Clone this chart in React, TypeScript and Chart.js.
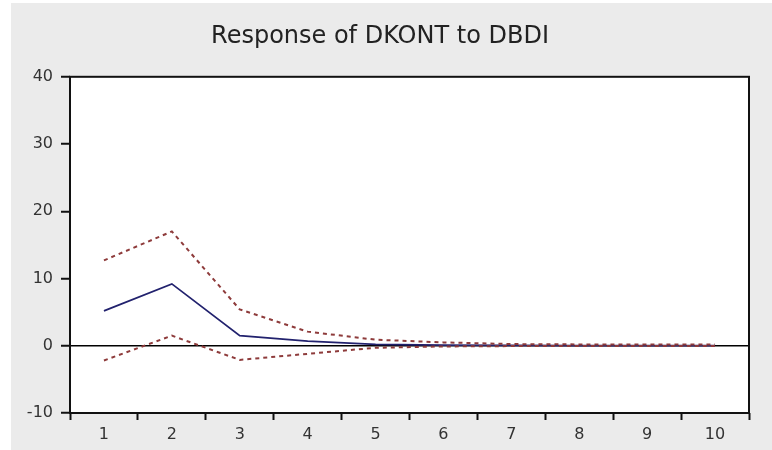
import React, { useEffect, useRef } from "react";
import { Chart, registerables } from "chart.js";

Chart.register(...registerables);

const categories = ["1", "2", "3", "4", "5", "6", "7", "8", "9", "10"];
const response = [5.2, 9.2, 1.5, 0.7, 0.2, 0.1, 0.05, 0.03, 0.02, 0.01];
const upperBand = [12.7, 17.0, 5.4, 2.1, 0.9, 0.5, 0.25, 0.2, 0.2, 0.2];
const lowerBand = [-2.2, 1.5, -2.1, -1.2, -0.3, -0.1, -0.05, -0.05, -0.05, -0.05];
const yTicks = [-10, 0, 10, 20, 30, 40];
const titleText = "Response of DKONT to DBDI";

const boxPlugin = {
  id: "boxPlugin",
  beforeDraw(chart: any) {
    const { ctx, chartArea, width, height } = chart;
    ctx.save();
    ctx.fillStyle = "#ebebeb";
    ctx.fillRect(0, 0, width, height);
    ctx.fillStyle = "#ffffff";
    ctx.fillRect(chartArea.left, chartArea.top, chartArea.right - chartArea.left, chartArea.bottom - chartArea.top);
    ctx.restore();
  },
  afterDraw(chart: any) {
    const { ctx, chartArea } = chart;
    ctx.save();
    ctx.strokeStyle = "#111";
    ctx.lineWidth = 2;
    ctx.strokeRect(chartArea.left, chartArea.top, chartArea.right - chartArea.left, chartArea.bottom - chartArea.top);
    ctx.restore();
  },
};

export default function App() {
  const ref = useRef<HTMLCanvasElement>(null);
  useEffect(() => {
    if (!ref.current) return;
    const chart = new Chart(ref.current, {
      type: "line",
      data: {
        labels: categories,
        datasets: [
          {
            data: upperBand,
            borderColor: "#8e3b3b",
            borderWidth: 2,
            borderDash: [4, 4],
            pointRadius: 0,
            tension: 0,
          },
          {
            data: lowerBand,
            borderColor: "#8e3b3b",
            borderWidth: 2,
            borderDash: [4, 4],
            pointRadius: 0,
            tension: 0,
          },
          {
            data: response,
            borderColor: "#22226e",
            borderWidth: 1.8,
            pointRadius: 0,
            tension: 0,
          },
        ],
      },
      options: {
        responsive: false,
        animation: false,
        layout: { padding: { left: 0, right: 23, top: 0, bottom: 0 } },
        plugins: {
          legend: { display: false },
          tooltip: { enabled: false },
          title: {
            display: true,
            text: titleText,
            color: "#222",
            font: { family: "DejaVu Sans", size: 24, weight: "normal" },
            padding: { top: 19, bottom: 26 },
          },
        },
        scales: {
          x: {
            type: "category",
            offset: true,
            border: { display: false },
            grid: {
              offset: true,
              drawOnChartArea: false,
              drawTicks: true,
              tickLength: 7,
              tickColor: "#111",
              tickWidth: 2,
            },
            ticks: {
              color: "#333",
              font: { family: "DejaVu Sans", size: 16 },
              padding: 5,
              maxRotation: 0,
            },
            afterFit(scale: any) {
              scale.height = 37;
            },
          },
          y: {
            min: -10,
            max: 40,
            border: { display: false },
            afterBuildTicks(scale: any) {
              scale.ticks = yTicks.map((v) => ({ value: v }));
            },
            grid: {
              drawOnChartArea: true,
              drawTicks: true,
              tickLength: 9,
              tickColor: "#111",
              tickWidth: 2,
              color: (ctx: any) => (ctx.tick && ctx.tick.value === 0 ? "#000" : "rgba(0,0,0,0)"),
              lineWidth: 1.5,
            },
            ticks: {
              color: "#333",
              font: { family: "DejaVu Sans", size: 16 },
              padding: 8,
            },
            afterFit(scale: any) {
              scale.width = 59;
            },
          },
        },
      },
      plugins: [boxPlugin],
    });
    return () => chart.destroy();
  }, []);

  return (
    <div style={{ position: "fixed", left: 0, top: 0, width: 772, height: 450, background: "#fff" }}>
      <canvas ref={ref} width={761} height={447} style={{ position: "absolute", left: 11, top: 3 }} />
    </div>
  );
}
